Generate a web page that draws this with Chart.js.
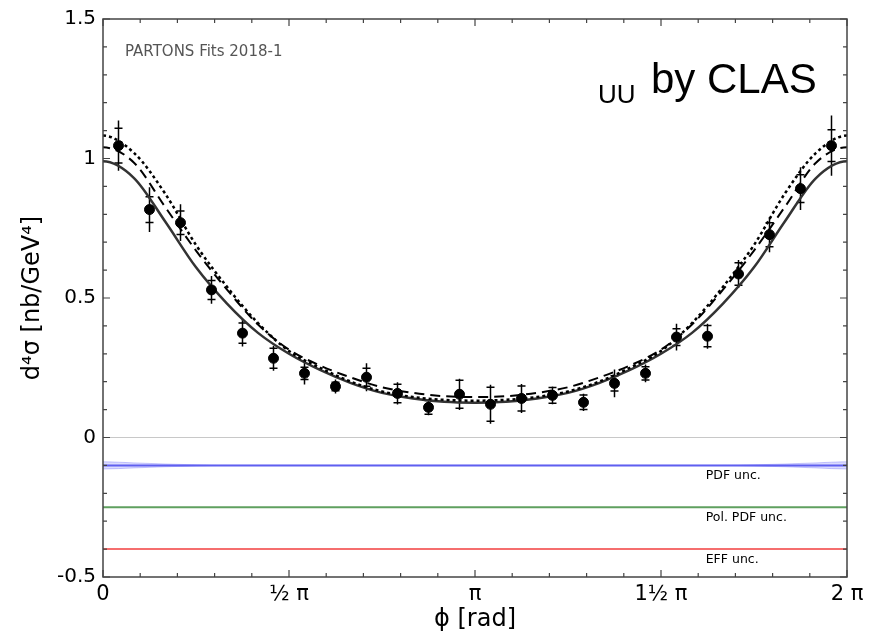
<!DOCTYPE html>
<html>
<head>
<meta charset="utf-8">
<script src="https://cdn.jsdelivr.net/npm/chart.js@4.4.1/dist/chart.umd.min.js"></script>
<style>
  html, body { margin: 0; padding: 0; background: #fff; }
</style>
</head>
<body>
<canvas id="chart" width="879" height="636"></canvas>
<script>
// CLAS data: bin centres (deg), cross section and errors
const pointPhi = [7.5, 22.5, 37.5, 52.5, 67.5, 82.5, 97.5, 112.5, 127.5, 142.5, 157.5, 172.5,
                  187.5, 202.5, 217.5, 232.5, 247.5, 262.5, 277.5, 292.5, 307.5, 322.5, 337.5, 352.5];
const pointValues = [1.046, 0.817, 0.770, 0.529, 0.374, 0.284, 0.230, 0.183, 0.216, 0.158, 0.108, 0.155,
                     0.119, 0.140, 0.151, 0.126, 0.194, 0.230, 0.360, 0.363, 0.586, 0.727, 0.892, 1.046];
const totalErr = [0.090, 0.080, 0.066, 0.050, 0.048, 0.045, 0.040, 0.025, 0.050, 0.040, 0.028, 0.056,
                  0.070, 0.052, 0.032, 0.031, 0.050, 0.032, 0.048, 0.045, 0.050, 0.063, 0.077, 0.108];
const statErr = [0.062, 0.046, 0.042, 0.034, 0.036, 0.036, 0.022, 0.015, 0.032, 0.033, 0.025, 0.050,
                 0.061, 0.045, 0.028, 0.026, 0.027, 0.024, 0.030, 0.038, 0.040, 0.043, 0.050, 0.057];

// fit curves, read every 15 deg (one extra step past each end, the curves are periodic)
const curvePhi = [-15, 0, 15, 30, 45, 60, 75, 90, 105, 120, 135, 150, 165, 180,
                  195, 210, 225, 240, 255, 270, 285, 300, 315, 330, 345, 360, 375];
const solidCurve = [0.930, 0.990, 0.930, 0.775, 0.610, 0.480, 0.375, 0.300, 0.242, 0.195, 0.160, 0.140, 0.128, 0.125,
                    0.128, 0.140, 0.160, 0.195, 0.242, 0.300, 0.375, 0.480, 0.610, 0.775, 0.930, 0.990, 0.930];
const dashedCurve = [0.985, 1.040, 0.985, 0.827, 0.670, 0.530, 0.405, 0.315, 0.258, 0.215, 0.180, 0.160, 0.148, 0.145,
                     0.148, 0.160, 0.180, 0.215, 0.258, 0.315, 0.405, 0.530, 0.670, 0.827, 0.985, 1.040, 0.985];
const dottedCurve = [1.020, 1.082, 1.020, 0.875, 0.690, 0.540, 0.410, 0.310, 0.250, 0.200, 0.165, 0.145, 0.135, 0.132,
                     0.135, 0.145, 0.165, 0.200, 0.250, 0.310, 0.410, 0.540, 0.690, 0.875, 1.020, 1.082, 1.020];

// uncertainty strips
const pdfLevel = -0.1;
const pdfHalfWidth = [0.009, 0.013, 0.009, 0.005, 0.002, 0, 0, 0, 0, 0, 0, 0, 0, 0,
                      0, 0, 0, 0, 0, 0, 0, 0, 0.002, 0.005, 0.009, 0.013, 0.009];
const polPdfLevel = -0.25;
const effLevel = -0.4;

// axes
const xTickValues = [0, 0.5 * Math.PI, Math.PI, 1.5 * Math.PI, 2 * Math.PI];
const xTickLabels = ['0', '½ π', 'π', '1½ π', '2 π'];
const yTickValues = [-0.5, 0, 0.5, 1, 1.5];
const yTickLabels = ['-0.5', '0', '0.5', '1', '1.5'];

const rad = Math.PI / 180;
const pts = (phis, vals) => phis.map((p, i) => ({ x: p * rad, y: vals[i] }));
const flat = (level) => [{ x: 0, y: level }, { x: 2 * Math.PI, y: level }];

const errorBars = {
  id: 'errorBars',
  beforeDatasetsDraw(chart) {
    const { ctx, scales: { x, y } } = chart;
    ctx.save();
    ctx.strokeStyle = '#000';
    ctx.lineWidth = 1.5;
    pointPhi.forEach((p, i) => {
      const px = x.getPixelForValue(p * rad);
      const yTop = y.getPixelForValue(pointValues[i] + totalErr[i]);
      const yBot = y.getPixelForValue(pointValues[i] - totalErr[i]);
      ctx.beginPath();
      ctx.moveTo(px, yTop);
      ctx.lineTo(px, yBot);
      [1, -1].forEach(s => {
        const py = y.getPixelForValue(pointValues[i] + s * statErr[i]);
        ctx.moveTo(px - 4, py);
        ctx.lineTo(px + 4, py);
      });
      ctx.stroke();
    });
    ctx.restore();
  },
  afterDraw(chart) {
    const { ctx, chartArea: a, scales: { x, y } } = chart;
    ctx.save();
    // frame
    ctx.strokeStyle = '#444';
    ctx.lineWidth = 1.5;
    ctx.strokeRect(a.left, a.top, a.right - a.left, a.bottom - a.top);
    // inward ticks on all four sides
    ctx.lineWidth = 1.2;
    ctx.beginPath();
    for (let k = 0; k <= 20; k++) {
      const px = x.getPixelForValue(k * Math.PI / 10);
      const len = k % 5 === 0 ? 7 : 4;
      ctx.moveTo(px, a.bottom); ctx.lineTo(px, a.bottom - len);
      ctx.moveTo(px, a.top); ctx.lineTo(px, a.top + len);
    }
    for (let k = 0; k <= 20; k++) {
      const py = y.getPixelForValue(-0.5 + k * 0.1);
      const len = k % 5 === 0 ? 7 : 4;
      ctx.moveTo(a.left, py); ctx.lineTo(a.left + len, py);
      ctx.moveTo(a.right, py); ctx.lineTo(a.right - len, py);
    }
    ctx.stroke();

    // annotations
    ctx.textBaseline = 'alphabetic';
    ctx.fillStyle = '#555';
    ctx.font = '15px "DejaVu Sans"';
    ctx.fillText('PARTONS Fits 2018-1', a.left + 22, 56);

    ctx.fillStyle = '#000';
    ctx.font = '26px "Liberation Sans", Arial';
    ctx.fillText('UU', 598, 103);
    ctx.font = '42px "Liberation Sans", Arial';
    ctx.fillText('by CLAS', 651, 93);

    ctx.font = '12.5px "DejaVu Sans"';
    const lx = x.getPixelForValue(5.09);
    ctx.fillText('PDF unc.', lx, y.getPixelForValue(pdfLevel) + 14);
    ctx.fillText('Pol. PDF unc.', lx, y.getPixelForValue(polPdfLevel) + 14);
    ctx.fillText('EFF unc.', lx, y.getPixelForValue(effLevel) + 14);
    ctx.restore();
  }
};

const chart = new Chart(document.getElementById('chart'), {
  type: 'line',
  data: {
    datasets: [
      {
        label: 'CLAS',
        data: pts(pointPhi, pointValues),
        showLine: false,
        pointRadius: 5,
        pointBackgroundColor: '#000',
        pointBorderColor: '#000',
        order: 0
      },
      {
        label: 'fit solid',
        data: pts(curvePhi, solidCurve),
        borderColor: '#333',
        borderWidth: 2.5,
        pointRadius: 0,
        cubicInterpolationMode: 'monotone',
        order: 3
      },
      {
        label: 'fit dashed',
        data: pts(curvePhi, dashedCurve),
        borderColor: '#000',
        borderWidth: 2,
        borderDash: [10, 6],
        pointRadius: 0,
        cubicInterpolationMode: 'monotone',
        order: 2
      },
      {
        label: 'fit dotted',
        data: pts(curvePhi, dottedCurve),
        borderColor: '#000',
        borderWidth: 2.5,
        borderDash: [3, 3],
        pointRadius: 0,
        cubicInterpolationMode: 'monotone',
        order: 1
      },
      {
        label: 'zero',
        data: flat(0),
        borderColor: '#c8c8c8',
        borderWidth: 1,
        pointRadius: 0,
        order: 9
      },
      {
        label: 'PDF upper',
        data: curvePhi.map((p, i) => ({ x: p * rad, y: pdfLevel + pdfHalfWidth[i] })),
        borderColor: 'rgba(110,110,250,0.35)',
        borderWidth: 1,
        pointRadius: 0,
        cubicInterpolationMode: 'monotone',
        fill: false,
        order: 8
      },
      {
        label: 'PDF lower',
        data: curvePhi.map((p, i) => ({ x: p * rad, y: pdfLevel - pdfHalfWidth[i] })),
        borderColor: 'rgba(110,110,250,0.35)',
        backgroundColor: 'rgba(110,110,250,0.25)',
        borderWidth: 1,
        pointRadius: 0,
        cubicInterpolationMode: 'monotone',
        fill: '-1',
        order: 7
      },
      {
        label: 'PDF unc.',
        data: flat(pdfLevel),
        borderColor: 'rgb(95,95,240)',
        borderWidth: 2,
        pointRadius: 0,
        order: 6
      },
      {
        label: 'Pol. PDF unc.',
        data: flat(polPdfLevel),
        borderColor: 'rgb(95,160,95)',
        borderWidth: 2,
        pointRadius: 0,
        order: 6
      },
      {
        label: 'EFF unc.',
        data: flat(effLevel),
        borderColor: 'rgb(245,110,110)',
        borderWidth: 2,
        pointRadius: 0,
        order: 6
      }
    ]
  },
  options: {
    responsive: false,
    animation: false,
    layout: { padding: { top: 18, right: 32, left: 0, bottom: 0 } },
    plugins: { legend: { display: false }, tooltip: { enabled: false } },
    scales: {
      x: {
        type: 'linear',
        min: 0,
        max: 2 * Math.PI,
        grid: { display: false, drawTicks: false },
        border: { display: false },
        afterBuildTicks: s => { s.ticks = xTickValues.map(v => ({ value: v })); },
        afterFit: s => { s.height = 59; },
        ticks: {
          autoSkip: false,
          maxRotation: 0,
          padding: 5,
          color: '#000',
          font: { family: 'DejaVu Sans', size: 21 },
          callback: (v, i) => xTickLabels[i]
        },
        title: {
          display: true,
          text: 'ϕ [rad]',
          color: '#000',
          font: { family: 'DejaVu Sans', size: 24 },
          padding: { top: 0, bottom: 2 }
        }
      },
      y: {
        min: -0.5,
        max: 1.5,
        grid: { display: false, drawTicks: false },
        border: { display: false },
        afterBuildTicks: s => { s.ticks = yTickValues.map(v => ({ value: v })); },
        afterFit: s => { s.width = 103; },
        ticks: {
          padding: 7,
          color: '#000',
          font: { family: 'DejaVu Sans', size: 20 },
          callback: (v, i) => yTickLabels[i]
        },
        title: {
          display: true,
          text: 'd⁴σ [nb/GeV⁴]',
          color: '#000',
          font: { family: 'DejaVu Sans', size: 24 },
          padding: { top: 18, bottom: 0 }
        }
      }
    }
  },
  plugins: [errorBars]
});
</script>
</body>
</html>
